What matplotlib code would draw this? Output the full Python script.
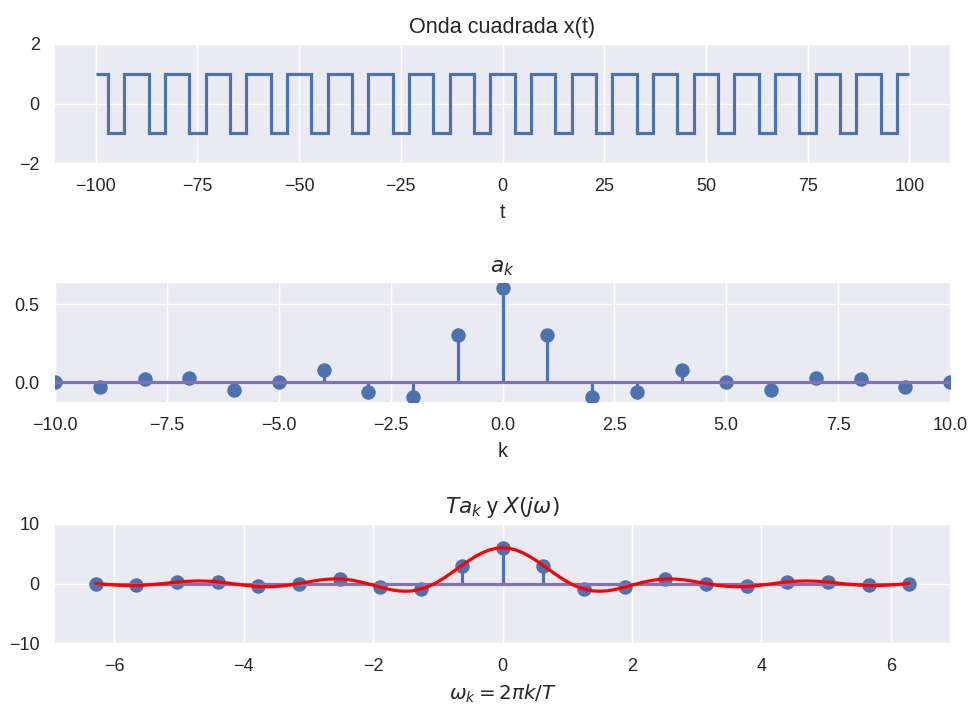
import numpy as np
import matplotlib
matplotlib.use("Agg")
import matplotlib.pyplot as plt

# square wave x(t): period T, high for |t| < T1 inside each period
T = 10
T1 = 3
t_span = (-100, 100)
levels = (1, -1)

# Fourier coefficients a_k, k = -10..10
k = np.arange(-10, 11)
a_k = [0.00, -0.03, 0.02, 0.03, -0.05, 0.00, 0.08, -0.06, -0.09, 0.30,
       0.60,
       0.30, -0.09, -0.06, 0.08, 0.00, -0.05, 0.03, 0.02, -0.03, 0.00]

# envelope X(jw), omega >= 0 (even function, mirrored below)
omega_half = [0.0, 0.1, 0.2, 0.3, 0.4, 0.5, 0.6, 0.7, 0.8, 0.9,
              1.0, 1.1, 1.2, 1.3, 1.4, 1.5, 1.6, 1.7, 1.8, 1.9,
              2.0, 2.1, 2.2, 2.3, 2.4, 2.5, 2.6, 2.7, 2.8, 2.9,
              3.0, 3.1, 3.2, 3.3, 3.4, 3.5, 3.6, 3.7, 3.8, 3.9,
              4.0, 4.1, 4.2, 4.3, 4.4, 4.5, 4.6, 4.7, 4.8, 4.9,
              5.0, 5.1, 5.2, 5.3, 5.4, 5.5, 5.6, 5.7, 5.8, 5.9,
              6.0, 6.1, 6.2, 6.28]
X_half = [6.00, 5.91, 5.65, 5.22, 4.66, 3.99, 3.25, 2.47, 1.69, 0.95,
          0.28, -0.29, -0.74, -1.06, -1.25, -1.30, -1.25, -1.09, -0.86, -0.58,
          -0.28, 0.02, 0.28, 0.50, 0.66, 0.75, 0.77, 0.72, 0.61, 0.46,
          0.27, 0.08, -0.11, -0.28, -0.41, -0.50, -0.55, -0.54, -0.48, -0.39,
          -0.27, -0.13, 0.02, 0.15, 0.27, 0.36, 0.41, 0.43, 0.40, 0.35,
          0.26, 0.16, 0.04, -0.07, -0.17, -0.26, -0.32, -0.35, -0.34, -0.31,
          -0.25, -0.17, -0.08, 0.00]

plt.style.use("seaborn-v0_8-darkgrid")
plt.rcParams["font.family"] = ["Liberation Sans", "DejaVu Sans"]
plt.rcParams.update({
    "xtick.labelsize": 10,
    "ytick.labelsize": 10,
    "xtick.major.pad": 8.5,
    "ytick.major.pad": 8.5,
    "axes.titlesize": 12,
    "axes.labelsize": 11,
    "lines.linewidth": 1.75,
    "lines.markersize": 7,
})

blue = "#4C72B0"
purple = "#8172B2"

W, H, DPI = 970, 709, 130
fig = plt.figure(figsize=(W / DPI, H / DPI), dpi=DPI)


def px_axes(top, bottom, left=55, right=950):
    return fig.add_axes([left / W, 1 - bottom / H, (right - left) / W, (bottom - top) / H])


ax1 = px_axes(44, 163)
ax2 = px_axes(283, 402)
ax3 = px_axes(524, 643)

# --- square wave
centers = np.arange(t_span[0], t_span[1] + 1, T)
inner = sorted(e for c in centers for e in (c - T1, c + T1) if t_span[0] < e < t_span[1])
edges = [t_span[0]] + inner + [t_span[1]]
vals = [levels[i % 2] for i in range(len(edges) - 1)]
ax1.stairs(vals, edges, baseline=None, color=blue, linewidth=1.75)
ax1.set_ylim(-2, 2)
ax1.set_yticks([-2, 0, 2])
ax1.set_xlim(-110, 110)
ax1.set_xticks([-100, -75, -50, -25, 0, 25, 50, 75, 100])
ax1.set_title("Onda cuadrada x(t)")
ax1.set_xlabel("t")

# --- a_k
m, s, b = ax2.stem(k, a_k)
plt.setp(s, color=blue, linewidth=1.75)
plt.setp(m, color=blue, markersize=7)
plt.setp(b, color=purple, linewidth=1.75)
ax2.set_xlim(-10, 10)
ax2.set_xticks([-10, -7.5, -5, -2.5, 0, 2.5, 5, 7.5, 10])
ax2.set_title("$a_k$")
ax2.set_xlabel("k")

# --- T a_k and X(jw)
omega_k = 2 * np.pi * k / T
Ta_k = T * np.array(a_k)
m, s, b = ax3.stem(omega_k, Ta_k)
plt.setp(s, color=blue, linewidth=1.75)
plt.setp(m, color=blue, markersize=7)
plt.setp(b, color=purple, linewidth=1.75)
omega_full = np.concatenate([-np.array(omega_half[::-1]), omega_half[1:]])
X_full = np.concatenate([X_half[::-1], X_half[1:]])
ax3.plot(omega_full, X_full, color="red", linewidth=1.75)
ax3.set_ylim(-10, 10)
ax3.set_yticks([-10, 0, 10])
ax3.set_xticks([-6, -4, -2, 0, 2, 4, 6])
ax3.set_title("$Ta_k$ y $X(j\\omega)$")
ax3.set_xlabel("$\\omega_k = 2\\pi k/T$")

fig.savefig("out.png", dpi=DPI)
